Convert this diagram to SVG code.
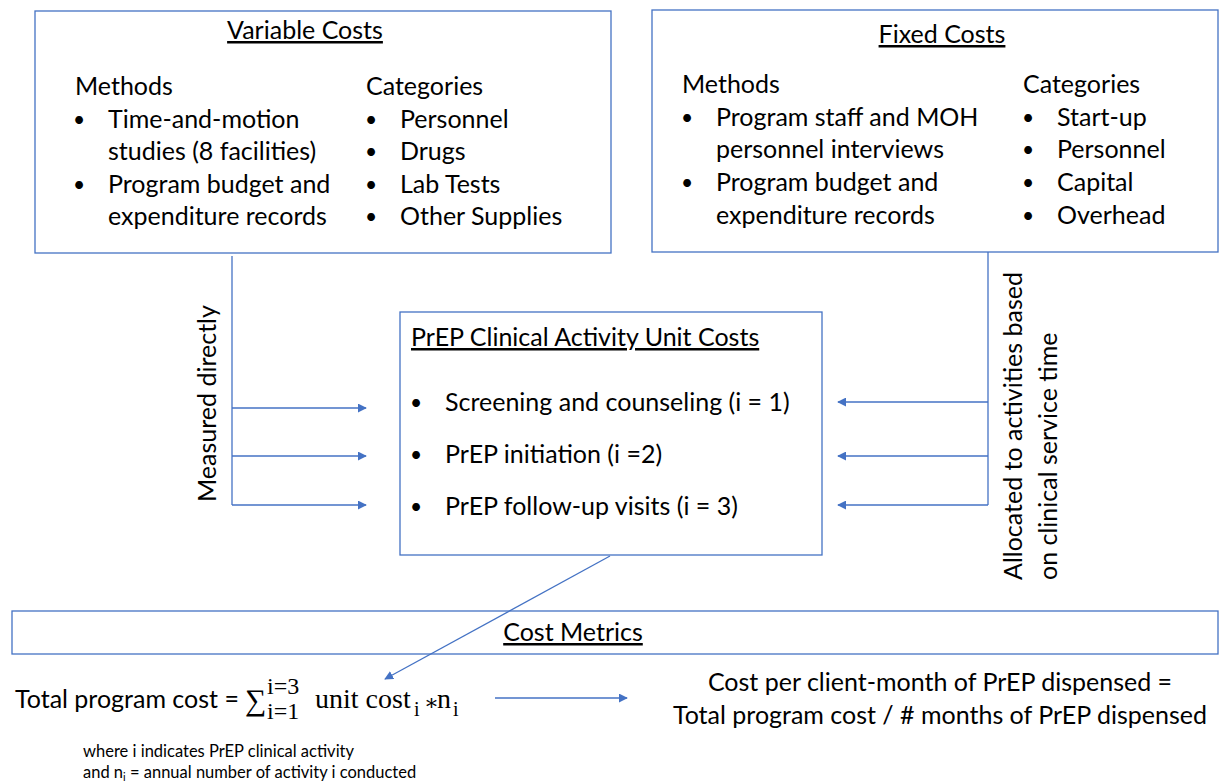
<svg xmlns="http://www.w3.org/2000/svg" width="1220" height="783" viewBox="0 0 1220 783">
  <defs>
    <style>
      .box { fill: none; stroke: #4472C4; stroke-width: 1.3; }
      .link { fill: none; stroke: #4472C4; stroke-width: 1.3; }
      .t { font-family: Lato, "Open Sans", "Liberation Sans", sans-serif; font-size: 25px; fill: #000; }
      .b { font-family: Lato, "Open Sans", "Liberation Sans", sans-serif; font-size: 21px; fill: #000; }
      .h { text-decoration: underline; text-anchor: middle; }
      .m { font-family: "Liberation Serif", "DejaVu Serif", serif; fill: #000; }
      .note { font-family: Lato, "Open Sans", "Liberation Sans", sans-serif; font-size: 16.5px; fill: #000; }
    </style>
    <marker id="arr" viewBox="0 0 10 10" refX="9" refY="5" markerWidth="9" markerHeight="9" markerUnits="userSpaceOnUse" orient="auto">
      <path d="M0,0 L10,5 L0,10 z" fill="#4472C4"/>
    </marker>
  </defs>
  <rect width="1220" height="783" fill="#ffffff"/>

  <!-- variable costs -->
  <g id="variable-costs">
    <rect class="box" x="35" y="11" width="576" height="242"/>
    <text class="t h" x="305" y="39">Variable Costs</text>
    <text class="t" x="75" y="95">Methods</text>
    <text class="b" x="73" y="127">•</text>
    <text class="t" x="108" y="128">Time-and-motion</text>
    <text class="t" x="108" y="160">studies (8 facilities)</text>
    <text class="b" x="73" y="192">•</text>
    <text class="t" x="108" y="193">Program budget and</text>
    <text class="t" x="108" y="225">expenditure records</text>
    <text class="t" x="366" y="95">Categories</text>
    <text class="b" x="365" y="127">•</text>
    <text class="t" x="400" y="128">Personnel</text>
    <text class="b" x="365" y="159">•</text>
    <text class="t" x="400" y="160">Drugs</text>
    <text class="b" x="365" y="192">•</text>
    <text class="t" x="400" y="193">Lab Tests</text>
    <text class="b" x="365" y="224">•</text>
    <text class="t" x="400" y="225">Other Supplies</text>
  </g>

  <!-- fixed costs -->
  <g id="fixed-costs">
    <rect class="box" x="652" y="10" width="566" height="242"/>
    <text class="t h" x="942" y="43">Fixed Costs</text>
    <text class="t" x="682" y="93">Methods</text>
    <text class="b" x="681" y="125">•</text>
    <text class="t" x="716" y="126">Program staff and MOH</text>
    <text class="t" x="716" y="158">personnel interviews</text>
    <text class="b" x="681" y="190">•</text>
    <text class="t" x="716" y="191">Program budget and</text>
    <text class="t" x="716" y="224">expenditure records</text>
    <text class="t" x="1023" y="93">Categories</text>
    <text class="b" x="1022" y="125">•</text>
    <text class="t" x="1057" y="126">Start-up</text>
    <text class="b" x="1022" y="157">•</text>
    <text class="t" x="1057" y="158">Personnel</text>
    <text class="b" x="1022" y="190">•</text>
    <text class="t" x="1057" y="191">Capital</text>
    <text class="b" x="1022" y="223">•</text>
    <text class="t" x="1057" y="224">Overhead</text>
  </g>

  <!-- unit costs -->
  <g id="unit-costs">
    <rect class="box" x="400" y="312" width="422" height="243"/>
    <text class="t" x="411" y="346" text-decoration="underline">PrEP Clinical Activity Unit Costs</text>
    <text class="b" x="410" y="410">•</text>
    <text class="t" x="445" y="411">Screening and counseling (i = 1)</text>
    <text class="b" x="410" y="462">•</text>
    <text class="t" x="445" y="463">PrEP initiation (i =2)</text>
    <text class="b" x="410" y="514">•</text>
    <text class="t" x="445" y="515">PrEP follow-up visits (i = 3)</text>
  </g>

  <!-- cost metrics -->
  <g id="cost-metrics">
    <rect class="box" x="12" y="611" width="1206" height="43"/>
    <text class="t h" x="573" y="641">Cost Metrics</text>
  </g>

  <!-- total program cost formula -->
  <g id="total-cost">
    <text class="t" x="15" y="708">Total program cost =</text>
    <text class="m" x="245" y="710" font-size="30" font-family="DejaVu Serif, serif">∑</text>
    <text class="m" x="267" y="694" font-size="24">i=3</text>
    <text class="m" x="267" y="719" font-size="24">i=1</text>
    <text class="m" x="315" y="708" font-size="28">unit cost</text>
    <text class="m" x="414" y="716" font-size="20">i</text>
    <text class="m" x="424" y="710" font-size="22">∗</text>
    <text class="m" x="437" y="708" font-size="28">n</text>
    <text class="m" x="453" y="716" font-size="20">i</text>
  </g>

  <g id="notes">
    <text class="note" x="83" y="757">where i indicates PrEP clinical activity</text>
    <text class="note" x="83" y="778">and n<tspan font-size="11" dy="3">i</tspan><tspan dy="-3"> = annual number of activity i conducted</tspan></text>
  </g>

  <!-- cost per client-month -->
  <g id="cost-per-month">
    <text class="t" x="940" y="691" text-anchor="middle">Cost per client-month of PrEP dispensed =</text>
    <text class="t" x="940" y="724" text-anchor="middle">Total program cost / # months of PrEP dispensed</text>
  </g>

  <!-- connectors -->
  <g id="connectors">
    <path class="link" d="M232,256 V505"/>
    <path class="link" d="M232,408 H366" marker-end="url(#arr)"/>
    <path class="link" d="M232,456 H366" marker-end="url(#arr)"/>
    <path class="link" d="M232,505 H366" marker-end="url(#arr)"/>
    <path class="link" d="M988,252 V505"/>
    <path class="link" d="M988,402 H838" marker-end="url(#arr)"/>
    <path class="link" d="M988,456 H838" marker-end="url(#arr)"/>
    <path class="link" d="M988,505 H838" marker-end="url(#arr)"/>
    <path class="link" d="M610,556 L385,679" marker-end="url(#arr)"/>
    <path class="link" d="M495,698 H627" marker-end="url(#arr)"/>
    <text class="t" transform="translate(216,502) rotate(-90)">Measured directly</text>
    <text class="t" transform="translate(1022,580) rotate(-90)">Allocated to activities based</text>
    <text class="t" transform="translate(1057,580) rotate(-90)">on clinical service time</text>
  </g>
</svg>
